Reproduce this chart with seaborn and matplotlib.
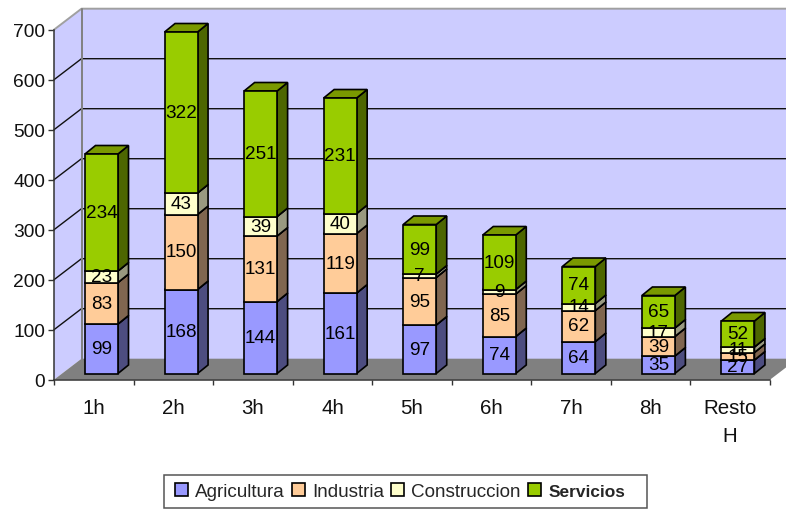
import matplotlib
matplotlib.use("Agg")
import matplotlib.pyplot as plt
from matplotlib.patches import Polygon, Patch, Rectangle
import seaborn as sns

categories = ["1h", "2h", "3h", "4h", "5h", "6h", "7h", "8h", "Resto\nH"]
agricultura = [99, 168, 144, 161, 97, 74, 64, 35, 27]
industria = [83, 150, 131, 119, 95, 85, 62, 39, 15]
construccion = [23, 43, 39, 40, 7, 9, 14, 17, 11]
servicios = [234, 322, 251, 231, 99, 109, 74, 65, 52]
series_names = ["Agricultura", "Industria", "Construccion", "Servicios"]
y_ticks = [0, 100, 200, 300, 400, 500, 600, 700]

front_colors = ["#9999FF", "#FFCC99", "#FFFFCC", "#99CC00"]
side_colors = ["#4D4D80", "#806650", "#999980", "#4D6600"]
top_color = "#7A9900"
wall_color = "#CCCCFF"
floor_color = "#808080"

W, H = 786, 510
sns.set_theme(style="white")
plt.rcParams["font.family"] = ["Liberation Sans", "DejaVu Sans"]

fig = plt.figure(figsize=(W / 100, H / 100), dpi=100, facecolor="white")
left, right, bottom, top = 54, 770, 380.7, 30.7
ax = fig.add_axes([left / W, 1 - bottom / H, (right - left) / W, (bottom - top) / H])
ax.set_facecolor("none")

px_x = (right - left) / 9
px_y = (bottom - top) / 700
x0 = -(101.5 - left) / px_x
x1 = x0 + 9

wall_dx, wall_dy = 27.5 / px_x, 21 / px_y
bar_dx, bar_dy = 10.5 / px_x, 8.5 / px_y
lift = 6.2 / px_y
bar_w = 33 / px_x

# walls and floor
ymax = 700
ax.add_patch(Polygon([(x0 + wall_dx, wall_dy), (x1 + wall_dx, wall_dy),
                      (x1 + wall_dx, ymax + wall_dy), (x0 + wall_dx, ymax + wall_dy)],
                     fc=wall_color, ec="none", zorder=0.5, clip_on=False))
ax.add_patch(Polygon([(x0, 0), (x0 + wall_dx, wall_dy), (x0 + wall_dx, ymax + wall_dy), (x0, ymax)],
                     fc=wall_color, ec="none", zorder=0.5, clip_on=False))
ax.add_patch(Polygon([(x0, 0), (x1, 0), (x1 + wall_dx, wall_dy), (x0 + wall_dx, wall_dy)],
                     fc=floor_color, ec="none", zorder=0.7, clip_on=False))
for v in y_ticks[1:-1]:
    ax.plot([x0, x0 + wall_dx, x1 + wall_dx], [v, v + wall_dy, v + wall_dy],
            color="#111111", lw=1.0, zorder=0.8, clip_on=False)
ax.plot([x0, x0 + wall_dx, x1 + wall_dx], [ymax, ymax + wall_dy, ymax + wall_dy],
        color="#A0A0A0", lw=1.4, zorder=0.8, clip_on=False)
ax.plot([x0 + wall_dx, x0 + wall_dx], [wall_dy, ymax + wall_dy],
        color="#808080", lw=1.4, zorder=0.8, clip_on=False)

# stacked bars
stack = [agricultura, industria, construccion, servicios]
bottoms = [lift] * len(categories)
for k, vals in enumerate(stack):
    sns.barplot(x=categories, y=vals, bottom=bottoms, width=bar_w, color=front_colors[k],
                saturation=1, edgecolor="black", linewidth=1.2, ax=ax, zorder=3 + k, clip_on=False)
    cont = ax.containers[-1]
    for bar, v in zip(cont.patches, vals):
        bx, by, bw, bh = bar.get_x(), bar.get_y(), bar.get_width(), bar.get_height()
        r = bx + bw
        ax.add_patch(Polygon([(r, by), (r + bar_dx, by + bar_dy), (r + bar_dx, by + bh + bar_dy), (r, by + bh)],
                             fc=side_colors[k], ec="black", lw=1.2, zorder=2.9 + k, clip_on=False))
        ax.add_patch(Polygon([(bx, by + bh), (r, by + bh), (r + bar_dx, by + bh + bar_dy), (bx + bar_dx, by + bh + bar_dy)],
                             fc=top_color if k == 3 else side_colors[k], ec="black", lw=1.2,
                             zorder=2.9 + k, clip_on=False))
    labs = ax.bar_label(cont, labels=[str(v) for v in vals], label_type="center",
                        fontsize=13.6, color="black", clip_on=False)
    for t in labs:
        t.set_zorder(20)
        t.set_clip_on(False)
    bottoms = [b + v for b, v in zip(bottoms, vals)]

ax.set_xlim(x0, x1)
ax.set_ylim(0, ymax)
ax.set_yticks(y_ticks)
ax.set_yticklabels([str(v) for v in y_ticks])
ax.set_xticks([x0 + i + 0.5 for i in range(9)])
ax.set_xticklabels(categories, linespacing=1.6, va="top")
ax.set_xticks([x0 + i for i in range(10)], minor=True)
ax.tick_params(axis="y", length=4.3, width=1, color="#333333", labelsize=13.8, pad=2.2, left=True, labelcolor="#111111")
ax.tick_params(axis="x", which="major", length=0, labelsize=14.8, pad=13, labelcolor="#111111")
ax.tick_params(axis="x", which="minor", length=3.6, width=1, color="#333333", bottom=True)
for s in ("top", "right"):
    ax.spines[s].set_visible(False)
for s in ("left", "bottom"):
    ax.spines[s].set_color("#333333")
    ax.spines[s].set_linewidth(1.1)
    ax.spines[s].set_zorder(2)
ax.set_xlabel("")
ax.set_ylabel("")

# legend
fig.add_artist(Rectangle((163.5 / W, 1 - 508.5 / H), 483.5 / W, 32.5 / H, transform=fig.transFigure,
                         fc="white", ec="#555555", lw=1.1))
handles = [Patch(fc=c, ec="black", lw=1.2, label=n) for c, n in zip(front_colors, series_names)]
leg = fig.legend(handles=handles, ncol=4, loc="center", bbox_to_anchor=(400 / W, 1 - 492.5 / H),
                 frameon=False, fontsize=13.6, handlelength=0.69, handleheight=0.69,
                 handletextpad=0.37, columnspacing=0.39, borderpad=0, borderaxespad=0)
leg.get_texts()[3].set_fontweight("bold")
leg.get_texts()[3].set_fontsize(12.4)

fig.savefig("out.png", dpi=100, facecolor="white")
